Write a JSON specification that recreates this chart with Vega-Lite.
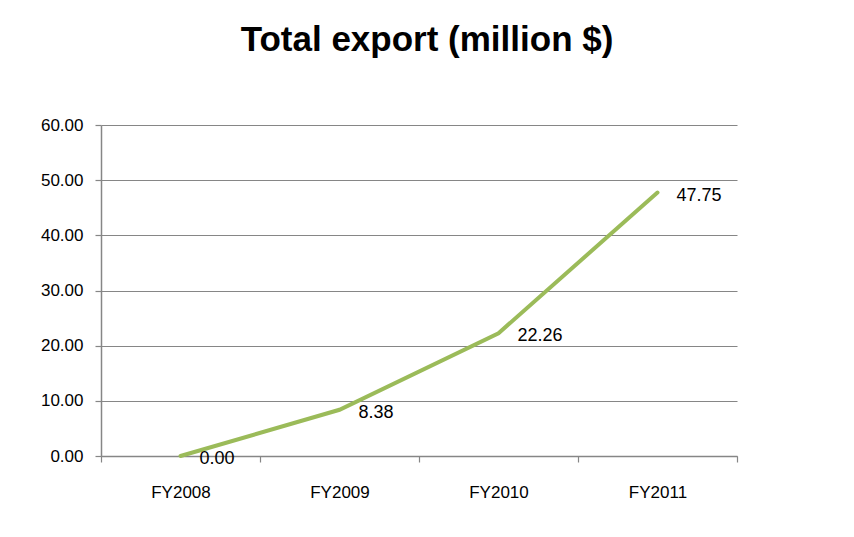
{
  "$schema": "https://vega.github.io/schema/vega-lite/v6.json",
  "width": 636,
  "height": 331,
  "autosize": {"type": "none"},
  "padding": {"left": 101, "top": 125, "right": 117, "bottom": 81},
  "background": "white",
  "title": {
    "text": "Total export (million $)",
    "font": "Liberation Sans",
    "fontSize": 35,
    "fontWeight": "bold",
    "color": "black",
    "anchor": "middle",
    "dx": 8,
    "offset": 58
  },
  "config": {
    "view": {"stroke": null},
    "font": "Liberation Sans"
  },
  "data": {
    "values": [
      {"year": "FY2008", "value": 0.0, "label": "0.00"},
      {"year": "FY2009", "value": 8.38, "label": "8.38"},
      {"year": "FY2010", "value": 22.26, "label": "22.26"},
      {"year": "FY2011", "value": 47.75, "label": "47.75"}
    ]
  },
  "encoding": {
    "x": {
      "field": "year",
      "type": "ordinal",
      "scale": {"type": "band", "paddingInner": 0, "paddingOuter": 0},
      "axis": {
        "title": null,
        "labelAngle": 0,
        "tickBand": "extent",
        "grid": false,
        "domainColor": "#868686",
        "domainWidth": 1.5,
        "tickColor": "#868686",
        "tickWidth": 1.2,
        "tickSize": 6,
        "labelPadding": 22,
        "labelFont": "Liberation Sans",
        "labelFontSize": 17,
        "labelColor": "black"
      }
    },
    "y": {
      "field": "value",
      "type": "quantitative",
      "scale": {"domain": [0, 60], "nice": false},
      "axis": {
        "title": null,
        "values": [0, 10, 20, 30, 40, 50, 60],
        "format": ".2f",
        "grid": true,
        "gridColor": "#868686",
        "gridWidth": 1.2,
        "domainColor": "#868686",
        "domainWidth": 1.5,
        "tickColor": "#868686",
        "tickWidth": 1.2,
        "tickSize": 6,
        "labelPadding": 12,
        "labelFont": "Liberation Sans",
        "labelFontSize": 17,
        "labelColor": "black"
      }
    }
  },
  "layer": [
    {
      "mark": {"type": "line", "color": "#9BBB59", "strokeWidth": 4, "strokeCap": "round"}
    },
    {
      "mark": {"type": "text", "align": "left", "baseline": "middle", "dx": 19, "dy": 3, "font": "Liberation Sans", "fontSize": 18, "color": "black"},
      "encoding": {"text": {"field": "label"}}
    }
  ]
}
